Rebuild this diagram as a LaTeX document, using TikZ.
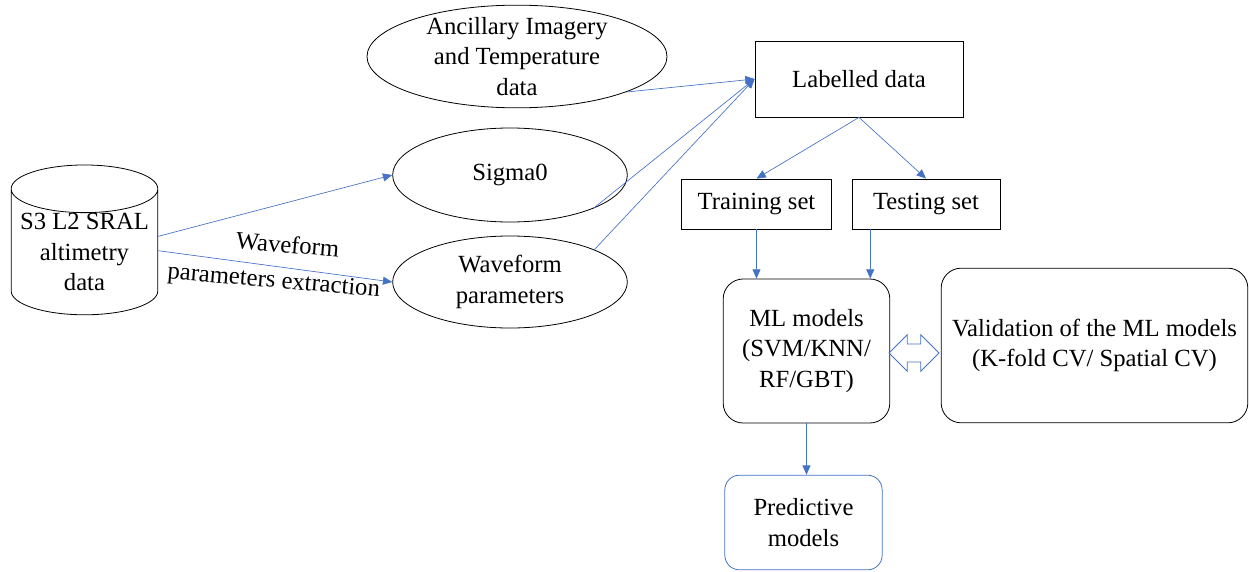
\documentclass[tikz,border=0pt]{standalone}
\usepackage{fontspec}
\setmainfont{LiberationSerif}[Extension=.ttf, UprightFont=*-Regular, BoldFont=*-Bold,
  ItalicFont=*-Italic, BoldItalicFont=*-BoldItalic]
\usetikzlibrary{positioning,arrows.meta,shapes.geometric,shapes.arrows,calc}

\begin{document}
\begin{tikzpicture}[
      x=0.75pt, y=-0.75pt,
      font=\rmfamily\fontsize{18.5}{23}\selectfont,
      oval/.style={ellipse, draw, line width=0.6pt, inner sep=0pt, align=center},
      boxr/.style={rectangle, draw, line width=0.6pt, align=center, inner sep=2pt},
      boxc/.style={rectangle, rounded corners=15pt, draw, line width=0.6pt, align=center, inner sep=2pt},
      flow/.style={-{Triangle[length=7pt, width=6pt]}, line width=0.5pt, arrblue},
    ]
    \definecolor{arrblue}{RGB}{68,114,196}
    \useasboundingbox (0,0) rectangle (1249,571);

    \node[cylinder, shape border rotate=90, aspect=0.37, draw, line width=0.6pt,
      minimum width=110pt, minimum height=92pt, align=center, inner sep=0pt] (sat) at (84.5,252) {S3 L2 SRAL\\altimetry\\data};

    \node[oval, minimum width=225pt, minimum height=77pt, inner ysep=-7pt] (anc) at (517,56.5) {Ancillary Imagery\\and Temperature\\data};
    \node[oval, minimum width=176pt, minimum height=70.5pt] (sig)  at (510,175) {Sigma0};
    \node[oval, minimum width=176pt, minimum height=69pt]   (wave) at (510,282) {Waveform\\parameters};

    \node[boxr, minimum width=156pt, minimum height=57pt]   (lab)   at (859,79)  {Labelled data};
    \node[boxr, minimum width=112pt, minimum height=37.5pt] (train) at (756.5,204) {Training set};
    \node[boxr, minimum width=111pt, minimum height=37.5pt] (test)  at (926,204) {Testing set};

    \node[boxc, minimum width=125pt, minimum height=108pt] (ml)    at (806.5,351) {ML models\\(SVM/KNN/\\RF/GBT)};
    \node[boxc, minimum width=230pt, minimum height=116pt] (valid) at (1094.5,345.5) {Validation of the ML models\\(K-fold CV/ Spatial CV)};
    \node[boxc, rounded corners=11pt, draw=arrblue, minimum width=118pt, minimum height=71pt] (pred) at (803.5,522.5) {Predictive\\models};

    \node[double arrow, draw=arrblue, line width=0.6pt, inner xsep=0pt, inner ysep=6.4pt,
      minimum height=37.5pt, double arrow head extend=7pt] (link) at (914,353) {};

    \draw[flow] (sat.12) -- (sig.west);
    \draw[flow] (sat.1) -- (wave.west)
      node[midway, yshift=2pt, rotate=-5, align=center, text=black, font=\rmfamily\fontsize{18.5}{27}\selectfont] (wlab) {\hspace*{16pt}Waveform\\parameters extraction};

    \draw[flow] (anc.342) -- (lab.west);
    \draw[flow] (sig.338) -- (lab.west);
    \draw[flow] (wave.21) -- (lab.west);

    \draw[flow] (lab.south) -- (train.north);
    \draw[flow] (lab.south) -- (test.north);

    \coordinate (mlin) at ($(ml.north east)+(-20,0)$);
    \draw[flow] (train.south) -- (train.south |- ml.north);
    \draw[flow] (test.south -| mlin) -- (mlin);
    \draw[flow] (ml.south) -- (ml.south |- pred.north);
  \end{tikzpicture}
\end{document}
